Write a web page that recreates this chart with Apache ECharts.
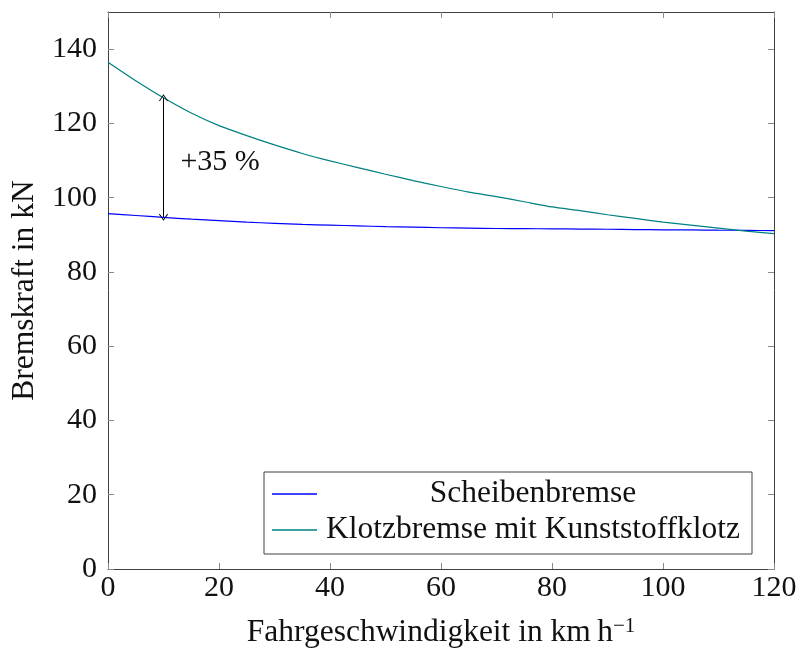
<!DOCTYPE html>
<html>
<head>
<meta charset="utf-8">
<script src="https://cdn.jsdelivr.net/npm/echarts@6/dist/echarts.min.js"></script>
<style>
  html, body { margin: 0; padding: 0; background: #fff; }
  #chart { width: 796px; height: 650px; }
</style>
</head>
<body>
<div id="chart"></div>
<script>
// Braking force over speed: disc brake vs. block brake with composite blocks
const speedKmh = [0, 5, 10, 15, 20, 25, 30, 35, 40, 45, 50, 55, 60,
                  65, 70, 75, 80, 85, 90, 95, 100, 105, 110, 115, 120];
const discBrakeKN = [95.7, 95.2, 94.7, 94.2, 93.8, 93.4, 93.1, 92.8, 92.6, 92.4, 92.2, 92.05, 91.9,
                     91.8, 91.7, 91.65, 91.6, 91.55, 91.5, 91.4, 91.35, 91.3, 91.25, 91.2, 91.1];
const blockBrakeKN = [136.5, 131.5, 126.9, 122.8, 119.4, 116.7, 114.2, 111.9, 109.9, 108.1, 106.3, 104.6, 103.0,
                      101.5, 100.3, 98.9, 97.5, 96.5, 95.4, 94.4, 93.4, 92.6, 91.8, 91.0, 90.3];
const seriesNames = ['Scheibenbremse', 'Klotzbremse mit Kunststoffklotz'];
const xTicks = [0, 20, 40, 60, 80, 100, 120];
const yTicks = [0, 20, 40, 60, 80, 100, 120, 140];
const gainSpeedIndex = 2;          // arrow drawn at 10 km/h
const gainText = '+35 %';
const gainTextAt = [20.2, 109.6];

const FONT = 'Liberation Serif';
const FS = 30;        // tick labels and annotation
const FS_TEXT = 31.5; // axis titles and legend
const FRAME = '#404040';
const TICK = '#8a8a8a';

const chart = echarts.init(document.getElementById('chart'), null, { renderer: 'canvas' });

const tickAxisCommon = {
  axisLine: { show: true, onZero: false, lineStyle: { color: FRAME, width: 1 } },
  axisTick: { show: true, inside: true, length: 6, lineStyle: { color: TICK, width: 1 } },
  splitLine: { show: false }
};

// V-shaped open arrow head, tip at the top
const openArrow = 'path://M5,0 L10,7 L9.2,7.7 L5,1.7 L0.8,7.7 L0,7 Z';

const option = {
  animation: false,
  backgroundColor: '#fff',
  textStyle: { fontFamily: FONT },
  grid: { left: 108, right: 22, top: 12, bottom: 81, containLabel: false, outerBoundsMode: 'none' },
  legend: {
    orient: 'vertical',
    left: 264,
    top: 472,
    padding: [6, 8, 8, 8],
    itemGap: 4,
    itemWidth: 45,
    itemHeight: 1.5,
    icon: 'rect',
    borderColor: FRAME,
    borderWidth: 1,
    backgroundColor: '#fff',
    selectedMode: false,
    data: seriesNames,
    formatter: name => '{t|' + name + '}',
    textStyle: {
      rich: {
        t: { fontFamily: FONT, fontSize: FS_TEXT, color: '#111', width: 422, align: 'center', lineHeight: 30 }
      }
    }
  },
  xAxis: [
    Object.assign({}, tickAxisCommon, {
      type: 'value', min: 0, max: 120, interval: 20, position: 'bottom',
      name: 'Fahrgeschwindigkeit in km\u2009h{sup|\u22121}',
      nameLocation: 'middle', nameGap: 47,
      nameTextStyle: {
        fontFamily: FONT, fontSize: FS_TEXT, color: '#111', lineHeight: 34,
        rich: { sup: { fontFamily: FONT, fontSize: 21, color: '#111', verticalAlign: 'top', lineHeight: 34 } }
      },
      axisLabel: { show: true, margin: 4, fontFamily: FONT, fontSize: FS, color: '#111', customValues: xTicks },
      axisTick: Object.assign({}, tickAxisCommon.axisTick, { customValues: xTicks })
    }),
    Object.assign({}, tickAxisCommon, {
      type: 'value', min: 0, max: 120, interval: 20, position: 'top',
      axisLabel: { show: false },
      axisTick: Object.assign({}, tickAxisCommon.axisTick, { customValues: xTicks })
    })
  ],
  yAxis: [
    Object.assign({}, tickAxisCommon, {
      type: 'value', min: 0, max: 150, interval: 20, position: 'left',
      name: 'Bremskraft in kN',
      nameLocation: 'middle', nameGap: 57, nameRotate: 90,
      nameTextStyle: { fontFamily: FONT, fontSize: FS_TEXT, color: '#111' },
      axisLabel: { show: true, margin: 11, fontFamily: FONT, fontSize: FS, color: '#111', customValues: yTicks },
      axisTick: Object.assign({}, tickAxisCommon.axisTick, { customValues: yTicks })
    }),
    Object.assign({}, tickAxisCommon, {
      type: 'value', min: 0, max: 150, interval: 20, position: 'right',
      axisLabel: { show: false },
      axisTick: Object.assign({}, tickAxisCommon.axisTick, { customValues: yTicks })
    })
  ],
  series: [
    {
      name: seriesNames[0],
      type: 'line',
      xAxisIndex: 0, yAxisIndex: 0,
      data: speedKmh.map((v, i) => [v, discBrakeKN[i]]),
      showSymbol: false,
      smooth: 0.2,
      color: '#0000ff',
      lineStyle: { color: '#0000ff', width: 1.2 },
      z: 3
    },
    {
      name: seriesNames[1],
      type: 'line',
      xAxisIndex: 0, yAxisIndex: 0,
      data: speedKmh.map((v, i) => [v, blockBrakeKN[i]]),
      showSymbol: false,
      smooth: 0.2,
      color: '#008080',
      lineStyle: { color: '#008080', width: 1.2 },
      z: 3,
      markLine: {
        silent: true,
        symbol: [openArrow, openArrow],
        symbolSize: [9, 7],
        lineStyle: { color: '#000', width: 1, type: 'solid' },
        label: { show: false },
        data: [[
          { coord: [speedKmh[gainSpeedIndex], discBrakeKN[gainSpeedIndex]] },
          { coord: [speedKmh[gainSpeedIndex], blockBrakeKN[gainSpeedIndex]] }
        ]]
      },
      markPoint: {
        silent: true,
        symbol: 'circle',
        symbolSize: 0,
        label: { show: true, position: 'inside', formatter: gainText, fontFamily: FONT, fontSize: FS, color: '#111' },
        data: [{ coord: gainTextAt }]
      }
    }
  ]
};

chart.setOption(option);
</script>
</body>
</html>
